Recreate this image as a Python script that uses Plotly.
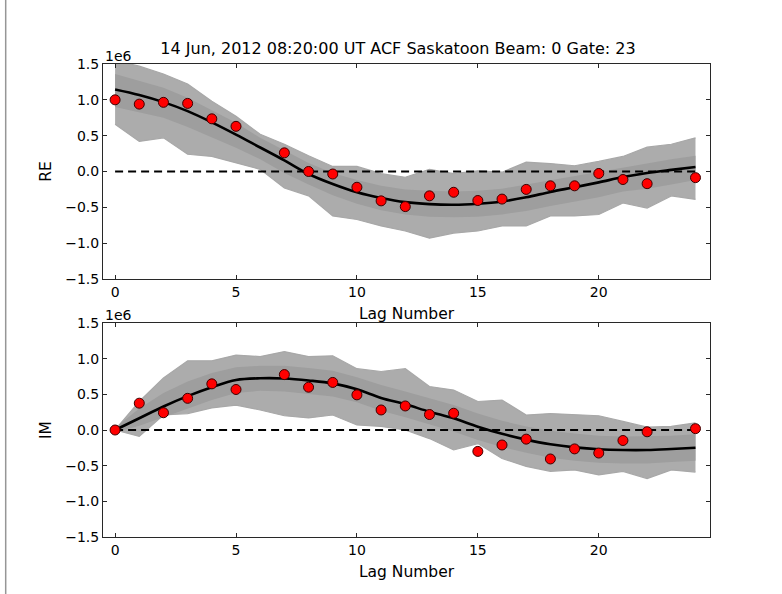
import plotly.graph_objects as go

# ---------------- data ----------------
title_text = "14 Jun, 2012 08:20:00 UT ACF Saskatoon Beam: 0 Gate: 23"
lags_all = list(range(25))
lags_obs = [0, 1, 2, 3, 4, 5, 7, 8, 9, 10, 11, 12, 13, 14, 15, 16, 17, 18, 19, 20, 21, 22, 24]

# observed ACF (units of 1e6)
re_obs = [1.00, 0.94, 0.965, 0.95, 0.735, 0.63, 0.26, 0.0, -0.035, -0.22, -0.41, -0.49, -0.34,
          -0.29, -0.405, -0.385, -0.25, -0.20, -0.20, -0.028, -0.112, -0.17, -0.086]
im_obs = [0.0, 0.376, 0.242, 0.444, 0.647, 0.568, 0.777, 0.60, 0.667, 0.493, 0.281, 0.337, 0.217,
          0.235, -0.30, -0.21, -0.128, -0.406, -0.265, -0.323, -0.147, -0.025, 0.019]

# fitted model (units of 1e6)
re_fit = [1.145, 1.068, 0.968, 0.842, 0.686, 0.515, 0.335, 0.155, -0.035, -0.175, -0.29, -0.37,
          -0.428, -0.456, -0.465, -0.45, -0.418, -0.36, -0.285, -0.22, -0.152, -0.078, -0.02, 0.023, 0.062]
im_fit = [0.0, 0.165, 0.33, 0.475, 0.60, 0.70, 0.725, 0.722, 0.695, 0.654, 0.57, 0.45, 0.36,
          0.257, 0.164, 0.047, -0.053, -0.135, -0.20, -0.243, -0.27, -0.28, -0.28, -0.266, -0.248]

# outer spread of the Monte-Carlo realisations (units of 1e6)
re_upper = [1.55, 1.47, 1.36, 1.22, 0.98, 0.77, 0.52, 0.38, 0.22, 0.07, 0.07, -0.03, -0.08,
            0.03, -0.03, 0.01, -0.01, 0.13, 0.11, 0.08, 0.14, 0.21, 0.34, 0.38, 0.47]
re_lower = [0.66, 0.42, 0.47, 0.24, 0.21, 0.12, 0.03, -0.23, -0.34, -0.62, -0.67, -0.76, -0.83,
            -0.93, -0.86, -0.83, -0.76, -0.76, -0.62, -0.62, -0.60, -0.44, -0.51, -0.34, -0.39]
im_upper = [0.0, 0.40, 0.73, 0.97, 0.97, 1.05, 1.03, 1.10, 1.03, 1.04, 0.86, 0.82, 0.86,
            0.61, 0.56, 0.40, 0.42, 0.21, 0.23, 0.21, 0.20, 0.12, 0.04, 0.05, 0.10]
im_lower = [0.0, -0.09, 0.21, 0.23, 0.31, 0.35, 0.28, 0.20, 0.17, 0.21, 0.07, 0.05, 0.0,
            -0.12, -0.28, -0.19, -0.40, -0.51, -0.58, -0.56, -0.63, -0.58, -0.68, -0.56, -0.59]

# dense core of the realisations (units of 1e6)
re_core_up = [1.36, 1.27, 1.17, 1.03, 0.86, 0.68, 0.47, 0.30, 0.12, -0.02, -0.12, -0.20, -0.25,
              -0.27, -0.28, -0.27, -0.24, -0.18, -0.12, -0.06, 0.00, 0.06, 0.12, 0.17, 0.22]
re_core_lo = [0.90, 0.82, 0.75, 0.62, 0.48, 0.33, 0.17, -0.02, -0.18, -0.33, -0.45, -0.54, -0.60,
              -0.63, -0.64, -0.63, -0.60, -0.55, -0.48, -0.42, -0.36, -0.28, -0.24, -0.18, -0.12]
im_core_up = [0.03, 0.30, 0.52, 0.68, 0.80, 0.88, 0.90, 0.90, 0.87, 0.83, 0.74, 0.63, 0.54,
              0.44, 0.35, 0.23, 0.13, 0.05, -0.01, -0.05, -0.08, -0.09, -0.09, -0.08, -0.06]
im_core_lo = [-0.03, 0.06, 0.18, 0.30, 0.42, 0.52, 0.55, 0.54, 0.51, 0.47, 0.39, 0.27, 0.18,
              0.08, -0.02, -0.14, -0.24, -0.32, -0.39, -0.43, -0.46, -0.47, -0.47, -0.45, -0.43]

y_ticks = [-1.5, -1.0, -0.5, 0.0, 0.5, 1.0, 1.5]
y_tick_text = ["\u22121.5", "\u22121.0", "\u22120.5", "0.0", "0.5", "1.0", "1.5"]
x_ticks = [0, 5, 10, 15, 20]
scale = 1e6

# ---------------- figure ----------------
FONT = "DejaVu Sans"
EDGE = "rgb(168,168,168)"
fig = go.Figure()

panels = [
    (re_upper, re_lower, re_core_up, re_core_lo, re_obs, re_fit, "x", "y"),
    (im_upper, im_lower, im_core_up, im_core_lo, im_obs, im_fit, "x2", "y2"),
]
for up, lo, cup, clo, obs, fit, xa, ya in panels:
    fig.add_trace(go.Scatter(x=lags_all, y=[v * scale for v in lo], mode="lines",
                             line=dict(color=EDGE, width=1.2), xaxis=xa, yaxis=ya,
                             hoverinfo="skip"))
    fig.add_trace(go.Scatter(x=lags_all, y=[v * scale for v in up], mode="lines",
                             line=dict(color=EDGE, width=1.2), fill="tonexty",
                             fillcolor="rgb(172,172,172)", xaxis=xa, yaxis=ya,
                             hoverinfo="skip"))
    fig.add_trace(go.Scatter(x=lags_all, y=[v * scale for v in clo], mode="lines",
                             line=dict(width=0), xaxis=xa, yaxis=ya,
                             hoverinfo="skip"))
    fig.add_trace(go.Scatter(x=lags_all, y=[v * scale for v in cup], mode="lines",
                             line=dict(width=0), fill="tonexty",
                             fillcolor="rgb(158,158,158)", xaxis=xa, yaxis=ya,
                             hoverinfo="skip"))
    fig.add_trace(go.Scatter(x=[lags_all[0], lags_all[-1]], y=[0, 0], mode="lines",
                             line=dict(color="black", width=2, dash="8px,5px"),
                             xaxis=xa, yaxis=ya))
    fig.add_trace(go.Scatter(x=lags_all, y=[v * scale for v in fit], mode="lines",
                             line=dict(color="black", width=2.6, shape="spline"),
                             xaxis=xa, yaxis=ya))
    fig.add_trace(go.Scatter(x=lags_obs, y=[v * scale for v in obs], mode="markers",
                             marker=dict(color="red", size=10,
                                         line=dict(color="rgb(60,0,0)", width=1)),
                             xaxis=xa, yaxis=ya, cliponaxis=False))

axis_common = dict(showgrid=False, zeroline=False, showline=True, linecolor="rgb(40,40,40)",
                   linewidth=1, mirror="allticks", ticks="inside", ticklen=4,
                   tickcolor="rgb(40,40,40)", tickfont=dict(family=FONT, size=14, color="black"))

LABEL_FONT = dict(family=FONT, size=15.5, color="black")
xcommon = dict(axis_common, range=[-0.5, 24.6], tickvals=x_ticks,
               title=dict(text="Lag Number", font=LABEL_FONT, standoff=9))
ycommon = dict(axis_common, range=[-1.5 * scale, 1.5 * scale],
               tickvals=[v * scale for v in y_ticks], ticktext=y_tick_text)

fig.update_layout(
    width=782, height=594,
    margin=dict(l=103, r=72, t=64, b=57),
    paper_bgcolor="white", plot_bgcolor="white",
    showlegend=False,
    font=dict(family=FONT, size=14, color="black"),
    title=dict(text=title_text, x=398 / 782, xref="container", xanchor="center",
               y=1 - 48 / 594, yanchor="middle",
               font=dict(family=FONT, size=16, color="black")),
    xaxis=dict(xcommon, domain=[0, 1], anchor="y"),
    yaxis=dict(ycommon, domain=[0.5455, 1.0], anchor="x",
               title=dict(text="RE", font=LABEL_FONT, standoff=9)),
    xaxis2=dict(xcommon, domain=[0, 1], anchor="y2"),
    yaxis2=dict(ycommon, domain=[0.0, 0.4524], anchor="x2",
                title=dict(text="IM", font=LABEL_FONT, standoff=9)),
)

for ydom in (1.0, 0.4524):
    fig.add_annotation(text="1e6", xref="paper", yref="paper", x=0, y=ydom,
                       xanchor="left", yanchor="bottom", showarrow=False, yshift=-2,
                       font=dict(family=FONT, size=14, color="black"))

# left border line of the original canvas
fig.add_shape(type="line", xref="paper", yref="paper", x0=-0.1603, x1=-0.1603,
              y0=-0.1205, y1=1.1353, line=dict(color="rgb(150,150,150)", width=1.5))

fig.write_html("out.html", config={"displayModeBar": False},
               post_script="document.body.style.margin='0';")
